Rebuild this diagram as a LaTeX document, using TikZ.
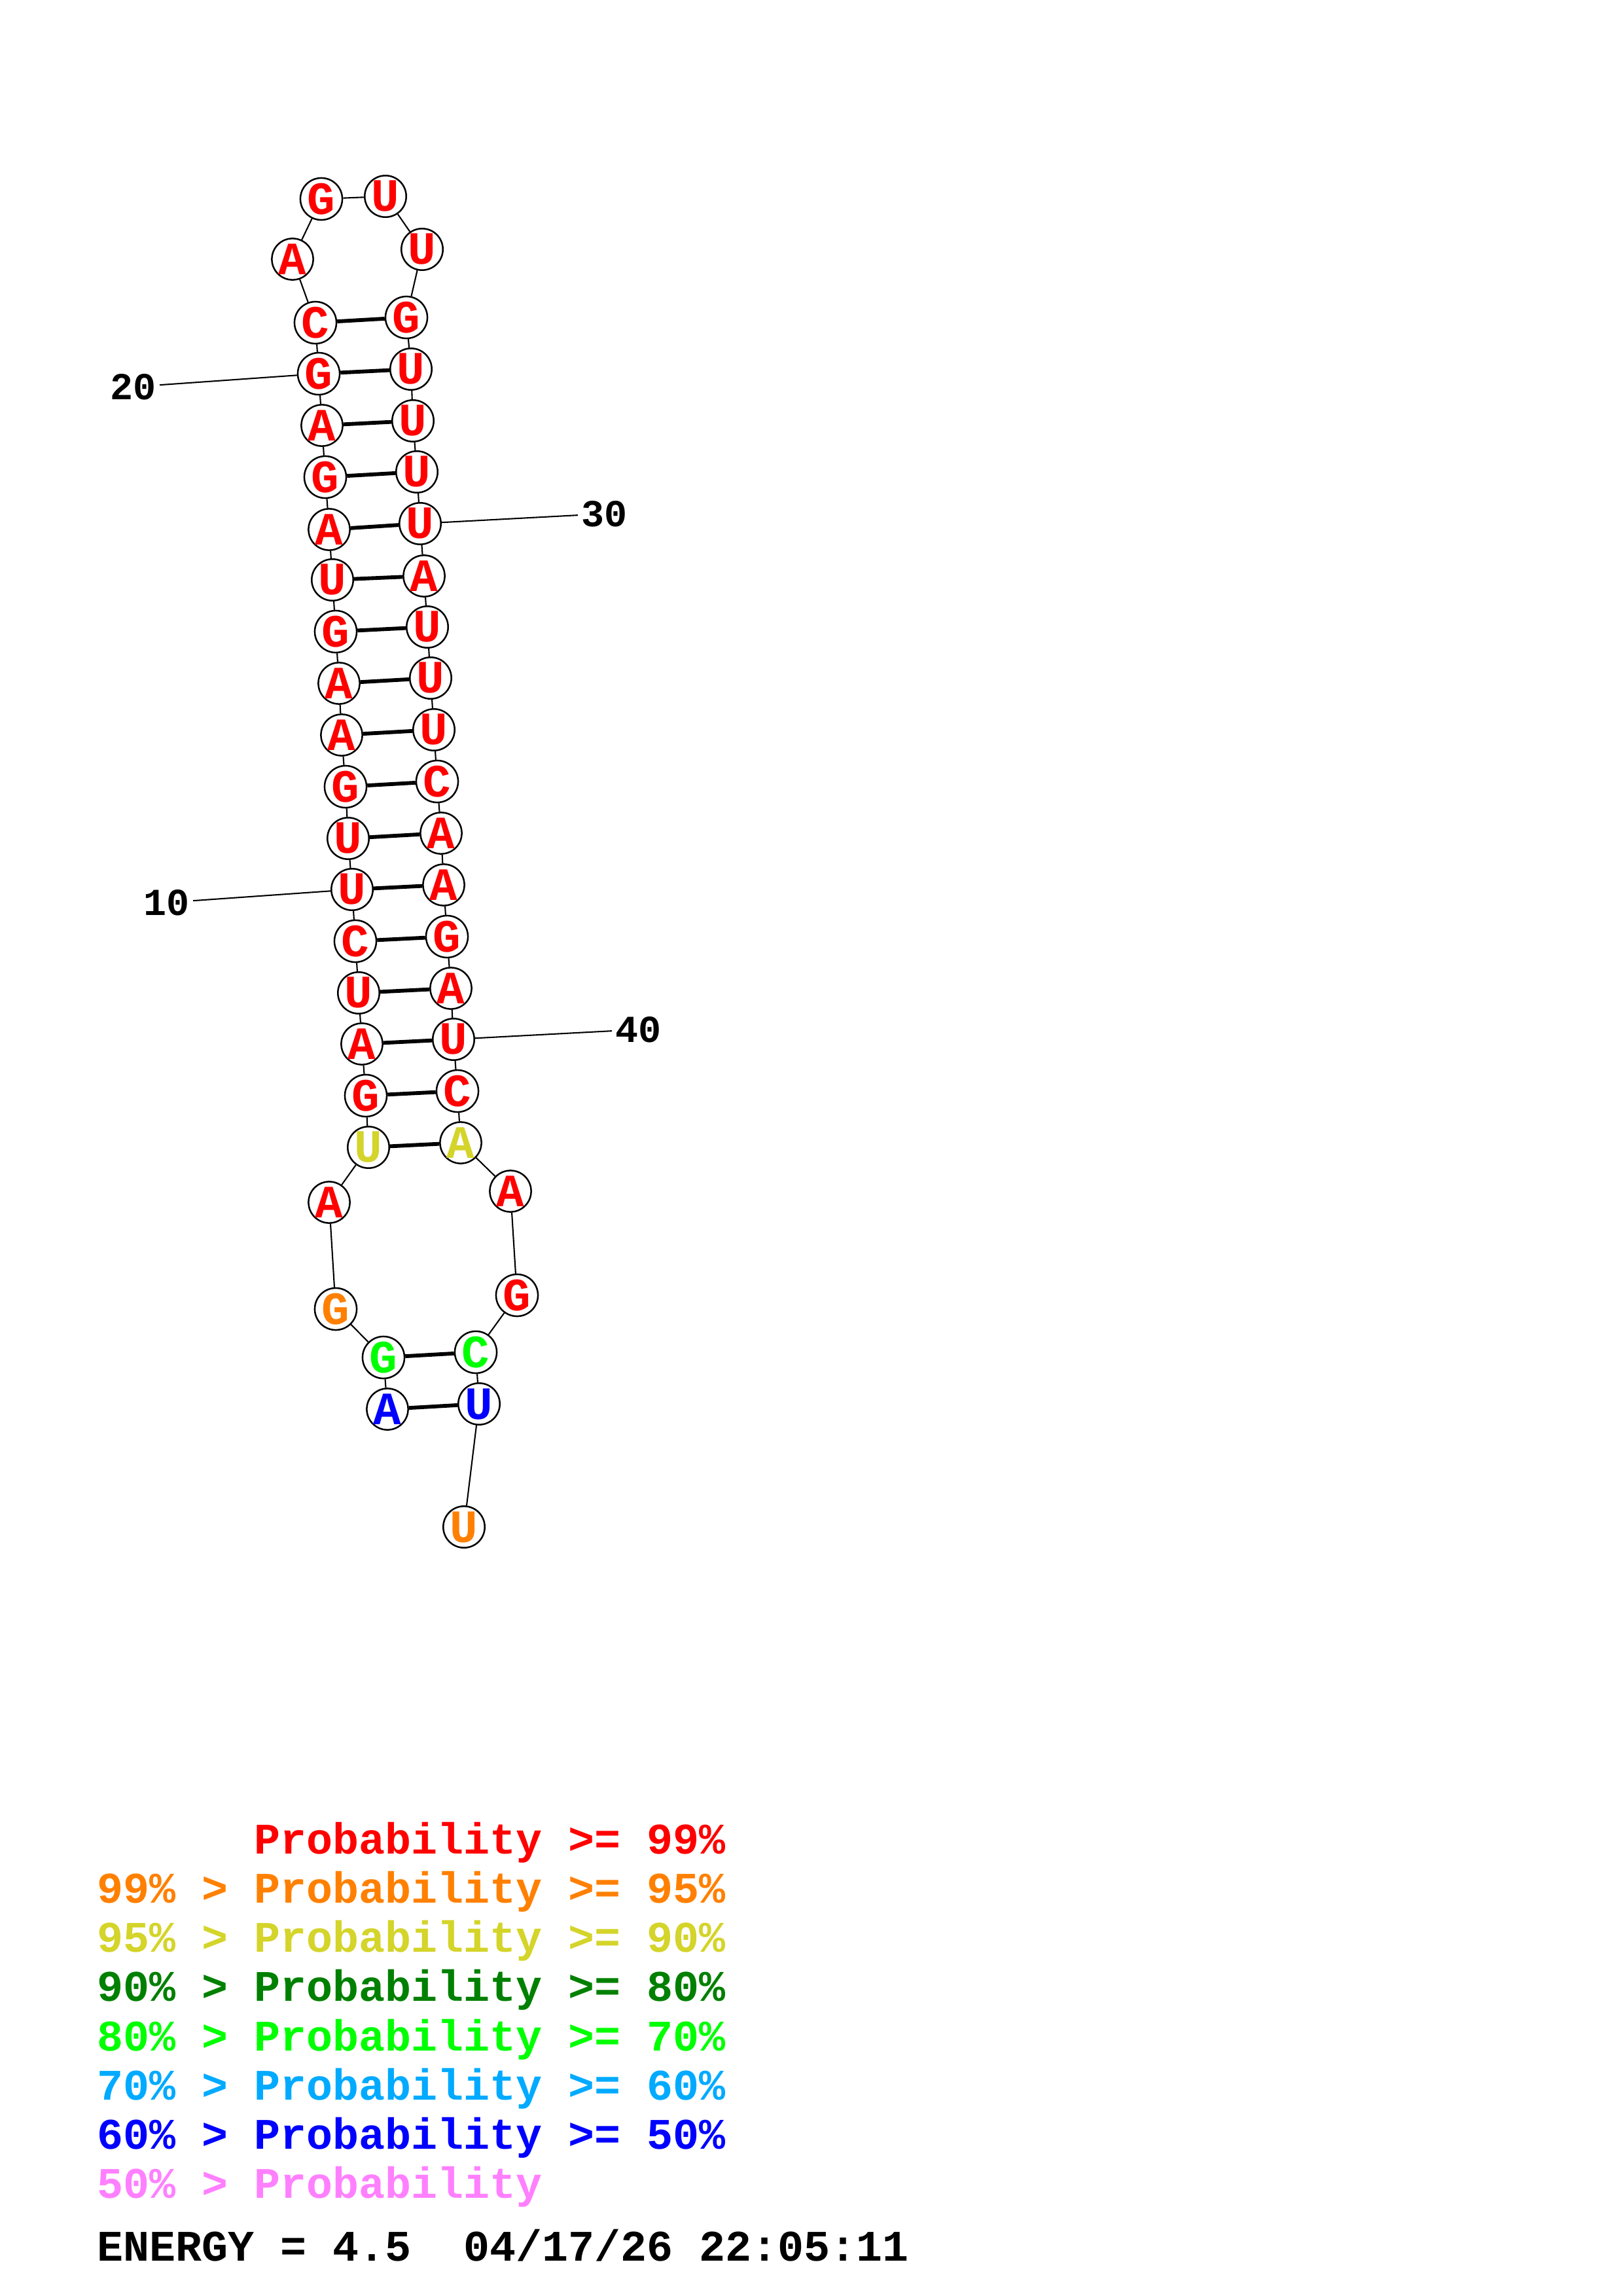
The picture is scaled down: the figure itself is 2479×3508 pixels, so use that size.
\documentclass[tikz,border=0pt]{standalone}
\usepackage{fontspec}
\setmonofont{Liberation Mono}
\usepackage{tikz}
\usepackage{xcolor}

\definecolor{p99}{RGB}{255,0,0}
\definecolor{p95}{RGB}{255,128,0}
\definecolor{p90}{RGB}{212,212,42}
\definecolor{p80}{RGB}{0,128,0}
\definecolor{p70}{RGB}{0,255,0}
\definecolor{p60}{RGB}{0,170,255}
\definecolor{p50}{RGB}{0,0,255}
\definecolor{plow}{RGB}{255,128,255}

\begin{document}
\frenchspacing
\begin{tikzpicture}[
    x=0.24pt, y=-0.24pt,
    nuc/.style={circle, draw, line width=0.6pt, fill=white, minimum size=14pt, inner sep=0pt, text=p99, font=\ttfamily\bfseries\fontsize{17}{17}\selectfont},
    backbone/.style={line width=0.5pt},
    pair/.style={line width=1.4pt},
    numlabel/.style={inner sep=1pt, font=\ttfamily\bfseries\fontsize{14}{14}\selectfont},
    legend/.style={anchor=base west, inner sep=0pt, font=\ttfamily\bfseries\fontsize{16}{16}\selectfont}
]
    \useasboundingbox (0,0) rectangle (2479,3508);

    % 5' strand up to the hairpin loop
    \node[nuc, text=p50] (n1) at (592,2153) {A};
    \node[nuc, text=p70] (n2) at (586,2074) {G};
    \node[nuc, text=p95] (n3) at (513,2000) {G};
    \node[nuc] (n4) at (503,1837) {A};
    \node[nuc, text=p90] (n5) at (563,1753) {U};
    \node[nuc] (n6) at (559,1674) {G};
    \node[nuc] (n7) at (553,1595) {A};
    \node[nuc] (n8) at (548,1517) {U};
    \node[nuc] (n9) at (543,1438) {C};
    \node[nuc] (n10) at (538,1359) {U};
    \node[nuc] (n11) at (532,1281) {U};
    \node[nuc] (n12) at (528,1202) {G};
    \node[nuc] (n13) at (522,1123) {A};
    \node[nuc] (n14) at (518,1044) {A};
    \node[nuc] (n15) at (513,965) {G};
    \node[nuc] (n16) at (508,886) {U};
    \node[nuc] (n17) at (503,809) {A};
    \node[nuc] (n18) at (497,729) {G};
    \node[nuc] (n19) at (492,650) {A};
    \node[nuc] (n20) at (487,571) {G};
    \node[nuc] (n21) at (482,493) {C};
    \node[nuc] (n22) at (447,396) {A};
    \node[nuc] (n23) at (491,304) {G};
    \node[nuc] (n24) at (589,300) {U};
    \node[nuc] (n25) at (645,381) {U};

    % 3' strand back down
    \node[nuc] (n26) at (621,485) {G};
    \node[nuc] (n27) at (628,564) {U};
    \node[nuc] (n28) at (631,643) {U};
    \node[nuc] (n29) at (637,721) {U};
    \node[nuc] (n30) at (642,800) {U};
    \node[nuc] (n31) at (648,880) {A};
    \node[nuc] (n32) at (653,958) {U};
    \node[nuc] (n33) at (658,1036) {U};
    \node[nuc] (n34) at (663,1115) {U};
    \node[nuc] (n35) at (668,1194) {C};
    \node[nuc] (n36) at (674,1273) {A};
    \node[nuc] (n37) at (678,1352) {A};
    \node[nuc] (n38) at (683,1431) {G};
    \node[nuc] (n39) at (689,1510) {A};
    \node[nuc] (n40) at (693,1588) {U};
    \node[nuc] (n41) at (699,1667) {C};
    \node[nuc, text=p90] (n42) at (704,1746) {A};
    \node[nuc] (n43) at (780,1820) {A};
    \node[nuc] (n44) at (790,1979) {G};
    \node[nuc, text=p70] (n45) at (727,2066) {C};
    \node[nuc, text=p50] (n46) at (732,2145) {U};
    \node[nuc, text=p95] (n47) at (709,2333) {U};

    % Backbone
    \draw[backbone] (n1) -- (n2);   \draw[backbone] (n2) -- (n3);   \draw[backbone] (n3) -- (n4);
    \draw[backbone] (n4) -- (n5);   \draw[backbone] (n5) -- (n6);   \draw[backbone] (n6) -- (n7);
    \draw[backbone] (n7) -- (n8);   \draw[backbone] (n8) -- (n9);   \draw[backbone] (n9) -- (n10);
    \draw[backbone] (n10) -- (n11); \draw[backbone] (n11) -- (n12); \draw[backbone] (n12) -- (n13);
    \draw[backbone] (n13) -- (n14); \draw[backbone] (n14) -- (n15); \draw[backbone] (n15) -- (n16);
    \draw[backbone] (n16) -- (n17); \draw[backbone] (n17) -- (n18); \draw[backbone] (n18) -- (n19);
    \draw[backbone] (n19) -- (n20); \draw[backbone] (n20) -- (n21); \draw[backbone] (n21) -- (n22);
    \draw[backbone] (n22) -- (n23); \draw[backbone] (n23) -- (n24); \draw[backbone] (n24) -- (n25);
    \draw[backbone] (n25) -- (n26); \draw[backbone] (n26) -- (n27); \draw[backbone] (n27) -- (n28);
    \draw[backbone] (n28) -- (n29); \draw[backbone] (n29) -- (n30); \draw[backbone] (n30) -- (n31);
    \draw[backbone] (n31) -- (n32); \draw[backbone] (n32) -- (n33); \draw[backbone] (n33) -- (n34);
    \draw[backbone] (n34) -- (n35); \draw[backbone] (n35) -- (n36); \draw[backbone] (n36) -- (n37);
    \draw[backbone] (n37) -- (n38); \draw[backbone] (n38) -- (n39); \draw[backbone] (n39) -- (n40);
    \draw[backbone] (n40) -- (n41); \draw[backbone] (n41) -- (n42); \draw[backbone] (n42) -- (n43);
    \draw[backbone] (n43) -- (n44); \draw[backbone] (n44) -- (n45); \draw[backbone] (n45) -- (n46);
    \draw[backbone] (n46) -- (n47);

    % Base pairs
    \draw[pair] (n1) -- (n46);
    \draw[pair] (n2) -- (n45);
    \draw[pair] (n5) -- (n42);
    \draw[pair] (n6) -- (n41);
    \draw[pair] (n7) -- (n40);
    \draw[pair] (n8) -- (n39);
    \draw[pair] (n9) -- (n38);
    \draw[pair] (n10) -- (n37);
    \draw[pair] (n11) -- (n36);
    \draw[pair] (n12) -- (n35);
    \draw[pair] (n13) -- (n34);
    \draw[pair] (n14) -- (n33);
    \draw[pair] (n15) -- (n32);
    \draw[pair] (n16) -- (n31);
    \draw[pair] (n17) -- (n30);
    \draw[pair] (n18) -- (n29);
    \draw[pair] (n19) -- (n28);
    \draw[pair] (n20) -- (n27);
    \draw[pair] (n21) -- (n26);

    % Position numbers
    \node[numlabel] (lab10) at (255,1379) {10};
    \node[numlabel] (lab20) at (204,591) {20};
    \node[numlabel] (lab30) at (923,785) {30};
    \node[numlabel] (lab40) at (975,1573) {40};
    \draw[backbone] (lab10) -- (n10);
    \draw[backbone] (lab20) -- (n20);
    \draw[backbone] (lab30) -- (n30);
    \draw[backbone] (lab40) -- (n40);

    % Legend
    \node[legend, text=p99] (leg1) at (388,2832) {Probability >= 99\%};
    \node[legend, text=p95] (leg2) at (148,2907) {99\% > Probability >= 95\%};
    \node[legend, text=p90] (leg3) at (148,2982) {95\% > Probability >= 90\%};
    \node[legend, text=p80] (leg4) at (148,3057) {90\% > Probability >= 80\%};
    \node[legend, text=p70] (leg5) at (148,3133) {80\% > Probability >= 70\%};
    \node[legend, text=p60] (leg6) at (148,3208) {70\% > Probability >= 60\%};
    \node[legend, text=p50] (leg7) at (148,3283) {60\% > Probability >= 50\%};
    \node[legend, text=plow] (leg8) at (148,3358) {50\% > Probability};
    \node[legend] (energy) at (148,3454) {ENERGY = 4.5\ \ 04/17/26 22:05:11};
\end{tikzpicture}
\end{document}
